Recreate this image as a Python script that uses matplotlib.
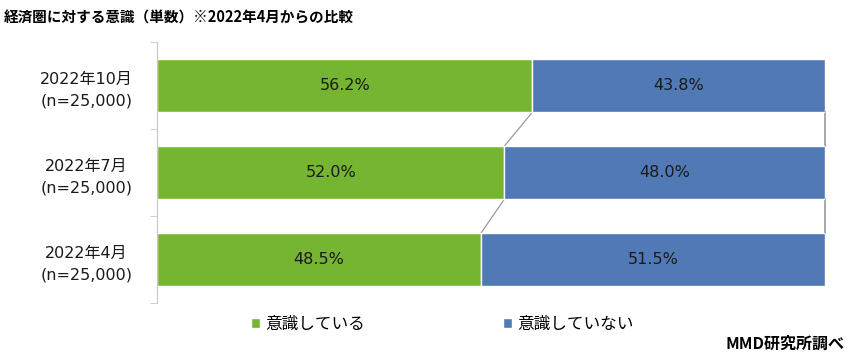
import matplotlib

matplotlib.use("Agg")
import matplotlib.pyplot as plt
import numpy as np

plt.rcParams["font.family"] = ["Noto Sans CJK JP", "DejaVu Sans"]

# data (bottom to top)
categories = ["2022年4月\n(n=25,000)", "2022年7月\n(n=25,000)", "2022年10月\n(n=25,000)"]
aware = [48.5, 52.0, 56.2]
not_aware = [51.5, 48.0, 43.8]
series_names = ["意識している", "意識していない"]

GREEN = "#76B531"
BLUE = "#5079B5"
LINE = "#9a9a9a"
WIDE = ["DejaVu Sans", "Noto Sans CJK JP"]

fig = plt.figure(figsize=(8.47, 3.6), dpi=100)
ax = fig.add_axes([0.1854, 0.158, 0.7886, 0.725])

y = np.arange(len(categories))
h = 0.61
ax.barh(y, aware, height=h, color=GREEN, edgecolor="white", linewidth=1.0, label=series_names[0], zorder=2)
ax.barh(y, not_aware, left=aware, height=h, color=BLUE, edgecolor="white", linewidth=1.0,
        label=series_names[1], zorder=2)

for i in range(len(y)):
    ax.text(aware[i] / 2, y[i], f"{aware[i]:.1f}%", ha="center", va="center", fontsize=11.5,
            color="#1a1a1a", family=WIDE, zorder=3)
    ax.text(aware[i] + not_aware[i] / 2, y[i], f"{not_aware[i]:.1f}%", ha="center", va="center",
            fontsize=11.5, color="#1a1a1a", family=WIDE, zorder=3)

# series lines between bars
for i in range(len(y) - 1):
    ax.plot([aware[i], aware[i + 1]], [y[i] + h / 2, y[i + 1] - h / 2], color=LINE, lw=0.9,
            zorder=1, clip_on=False)
    tot0 = aware[i] + not_aware[i]
    tot1 = aware[i + 1] + not_aware[i + 1]
    ax.plot([tot0, tot1], [y[i] + h / 2, y[i + 1] - h / 2], color=LINE, lw=1.2, zorder=1, clip_on=False)

ax.set_xlim(0, 100)
ax.set_ylim(-0.5, len(categories) - 0.5)
ax.set_xticks([])
ax.set_yticks(y)
ax.set_yticklabels(categories, fontsize=11.5, linespacing=1.5, color="#1a1a1a", family=WIDE)
ax.tick_params(axis="y", which="major", length=0, pad=10)
ax.set_yticks(np.arange(-0.5, len(categories)), minor=True)
ax.tick_params(axis="y", which="minor", length=5, color="#c8c8c8")
for s in ["top", "right", "bottom"]:
    ax.spines[s].set_visible(False)
ax.spines["left"].set_color("#c8c8c8")

for lab in ax.get_yticklabels():
    lab.set_horizontalalignment("center")
    lab.set_x(-0.085)

fig.text(0.005, 0.952, "経済圏に対する意識（単数）※2022年4月からの比較", fontsize=10.5,
         fontweight="bold", ha="left", va="center")
fig.text(0.997, 0.045, "MMD研究所調べ", fontsize=11.5, fontweight="bold", ha="right", va="center")

leg = fig.legend(loc="center", bbox_to_anchor=(0.522, 0.1), ncol=2, frameon=False, fontsize=12,
                 handlelength=0.55, handleheight=0.55, handletextpad=0.3, columnspacing=8.3)

fig.savefig("out.png", dpi=100)
plt.close(fig)
